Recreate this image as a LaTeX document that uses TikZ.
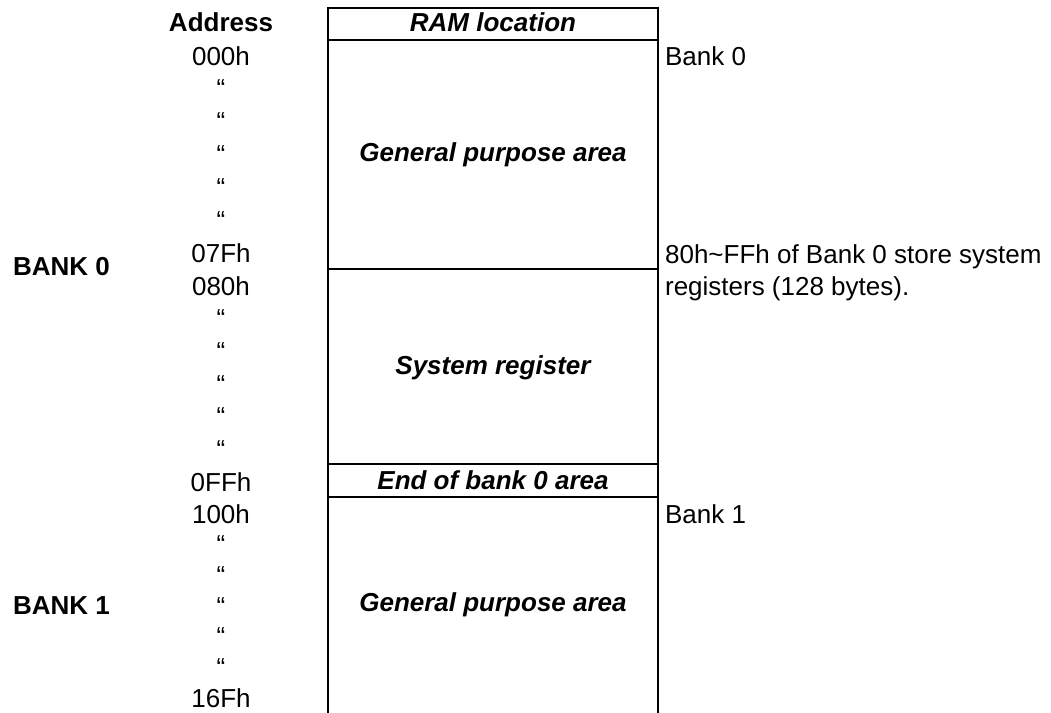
\documentclass[tikz,border=0pt]{standalone}
\usepackage{fontspec}
\setmainfont{Liberation Sans}
\begin{document}
\begin{tikzpicture}[x=0.5pt,y=-0.5pt,line width=1.1pt,line cap=rect,font=\fontsize{13}{16}\selectfont,
	addr/.style={anchor=base,inner sep=0pt},
	lbl/.style={anchor=base west,inner sep=0pt,align=left},
	bank/.style={anchor=base west,inner sep=0pt,font=\fontsize{13}{16}\selectfont\bfseries},
	area/.style={anchor=base,inner sep=0pt,font=\fontsize{13}{16}\selectfont\bfseries\itshape}]
	\useasboundingbox (0,0) rectangle (1051,713);
	\def\xl{328} \def\xr{658} \def\xa{221} \def\xm{493}
	\coordinate (tl) at (\xl,8); \coordinate (tr) at (\xr,8);
	\coordinate (bl) at (\xl,713); \coordinate (br) at (\xr,713);
	\draw (bl)--(tl)--(tr)--(br);
	\foreach \y in {40,269,464,497} \draw (\xl,\y)--(\xr,\y);
	\node[addr,font=\fontsize{13}{16}\selectfont\bfseries] (addrhead) at (\xa,31) {Address};
	\node[area] (ramloc) at (\xm,31) {RAM location};
	\node[area] (gpa0) at (\xm,161) {General purpose area};
	\node[area] (sysreg) at (\xm,374) {System register};
	\node[area] (endb0) at (\xm,489) {End of bank 0 area};
	\node[area] (gpa1) at (\xm,611) {General purpose area};
	\node[addr] (a000) at (\xa,65) {000h};
	\node[addr] (a07f) at (\xa,262) {07Fh};
	\node[addr] (a080) at (\xa,295) {080h};
	\node[addr] (a0ff) at (\xa,491) {0FFh};
	\node[addr] (a100) at (\xa,523) {100h};
	\node[addr] (a16f) at (\xa,707) {16Fh};
	\foreach \ya/\yb/\n in {65/262/g0,295/491/s0,523/707/g1}
		\foreach \i in {1,...,5}
			\node[addr] (q\n\i) at (\xa,{\ya+(\yb-\ya)*\i/6}) {“};
	\node[bank] (bank0) at (12,275) {BANK 0};
	\node[bank] (bank1) at (12,614) {BANK 1};
	\node[lbl] (nb0) at (664,65) {Bank 0};
	\node[lbl] (nsys) at (664,295) {80h\textasciitilde FFh of Bank 0 store system\\registers (128 bytes).};
	\node[lbl] (nb1) at (664,523) {Bank 1};
\end{tikzpicture}
\end{document}
